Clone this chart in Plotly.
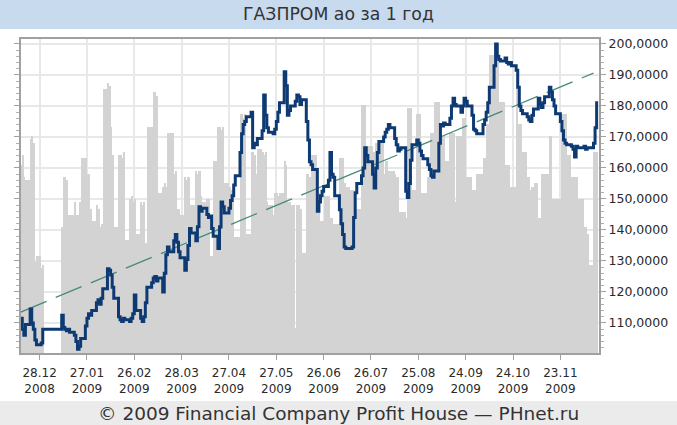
import pandas as pd
import plotly.graph_objects as go

# ---------------- data ----------------
title_text = "ГАЗПРОМ ао за 1 год"
footer_text = "© 2009 Financial Company Profit House — PHnet.ru"

# trading days: 16.12.2008 .. 16.12.2009 (New-Year holidays excluded, 11.01.2009 was a working Sunday)
_bd = pd.bdate_range("2008-12-16", "2009-12-16")
_bd = _bd[(_bd < "2008-12-31") | (_bd > "2009-01-10")]
dates = sorted(list(_bd) + [pd.Timestamp("2009-01-11")])

# closing price, rub. (one value per trading day)
price = [
    111.5, 108.0, 106.0, 109.5,
    114.5, 110.0, 108.0, 104.5, 103.0,
    103.5, 108.0,
    112.5,
    108.5, 108.0, 107.5, 108.0, 107.0,
    106.0, 104.0, 101.5, 102.5, 105.0,
    109.0, 111.5, 113.0, 112.5, 114.0,
    116.5, 117.5, 116.0, 118.0, 121.0,
    127.5, 127.0, 125.5, 121.5, 118.0,
    112.0, 111.0, 110.5, 111.5, 111.0,
    110.5, 111.5, 113.0, 119.0, 114.0,
    111.5, 110.5, 112.0, 116.5, 121.5,
    123.0, 124.5, 125.0, 123.5, 124.5,
    120.0, 126.0, 132.0, 134.5, 133.0,
    136.5, 138.5, 136.0, 133.0, 131.0,
    127.0, 130.5, 135.0, 140.5, 139.0,
    136.5, 141.0, 147.5, 146.0, 147.0,
    145.0, 144.0, 144.5, 140.5, 138.0,
    134.0, 141.0, 149.0, 147.5, 145.5,
    147.0, 149.5, 151.0, 154.5, 157.5,
    165.0, 171.0, 174.0, 175.0, 176.5,
    178.0, 166.5, 168.0, 167.5, 169.5,
    172.0, 183.5, 177.0, 173.0, 171.5,
    171.0, 172.5, 175.0, 178.0, 181.0,
    191.0, 186.5, 177.0, 178.5, 180.0,
    181.5, 183.5, 183.0, 180.5, 182.0,
    175.0, 169.0, 162.0, 161.0, 159.5,
    146.0, 149.0, 151.0, 152.5, 154.0,
    156.0, 165.0, 158.0, 157.0, 151.0,
    146.5, 142.0, 138.5, 134.5, 134.0,
    134.0, 134.5, 144.0, 152.0, 155.0,
    157.5, 160.0, 166.5, 164.0, 162.0,
    158.0, 153.5, 160.0, 165.0, 168.5,
    170.0, 171.5, 172.5, 174.0, 173.0,
    169.5, 167.5, 165.5, 166.0, 166.5,
    152.5, 150.5, 155.0, 162.5, 167.5,
    169.0, 168.0, 165.5, 164.0, 163.0,
    161.0, 159.5, 157.5, 157.0, 159.0,
    168.0, 174.0, 173.5, 174.5, 174.0,
    176.0, 180.0, 182.5, 180.5, 180.0,
    178.0, 180.0, 182.5, 181.5, 180.0,
    177.0, 172.5, 172.0, 171.0, 171.0,
    174.0, 175.5, 178.0, 181.0, 186.0,
    193.0, 200.0, 196.0, 195.0, 194.5,
    195.5, 194.0, 193.5, 194.0, 193.0,
    191.5, 186.0, 180.0, 178.5, 177.5,
    176.5, 175.5, 175.0, 177.0, 179.0,
    182.5, 180.5, 179.5, 181.0, 183.0,
    186.0, 184.5, 182.0, 180.0, 177.5,
    175.0, 172.0, 169.0, 168.0, 167.5,
    167.0, 166.0, 163.5, 167.0, 166.5,
    166.5, 167.0, 166.0, 166.5, 166.5,
    168.0, 173.0, 181.5,
]

# trading volume (relative units, background bars)
volume = [
    60, 63, 56, 55,
    68, 69, 67, 29, 31,
    27, 28,
    40,
    56, 56, 55, 44, 44,
    48, 44, 44, 48, 62,
    62, 57, 57, 46, 42,
    47, 46, 40, 41, 84,
    86, 85, 72, 63, 40,
    63, 63, 62, 64, 36,
    49, 50, 48, 49, 38,
    48, 47, 48, 35, 72,
    72, 83, 83, 82, 51,
    53, 54, 53, 70, 70,
    57, 58, 46, 46, 44,
    56, 55, 56, 47, 47,
    58, 57, 58, 50, 48,
    49, 49, 31, 31, 61,
    72, 72, 71, 72, 54,
    53, 52, 52, 37, 37,
    76, 76, 75, 76, 38,
    64, 64, 63, 57, 65,
    64, 63, 64, 48, 47,
    44, 51, 51, 50, 51,
    61, 60, 48, 48, 47,
    8, 47, 47, 46, 32,
    57, 57, 56, 63, 63,
    51, 51, 42, 42, 50,
    50, 43, 43, 41, 41,
    62, 62, 62, 54, 53,
    52, 52, 46, 46, 46,
    79, 79, 79, 66, 66,
    64, 64, 67, 67, 67,
    57, 61, 61, 58, 58,
    57, 56, 56, 45, 45,
    43, 78, 78, 78, 52,
    76, 76, 76, 51, 51,
    56, 56, 70, 70, 80,
    80, 69, 69, 69, 61,
    70, 70, 70, 48, 69,
    69, 75, 75, 56, 56,
    52, 52, 52, 57, 57,
    62, 62, 73, 73, 95,
    98, 98, 98, 80, 80,
    60, 60, 60, 53, 53,
    89, 73, 73, 73, 64,
    56, 56, 52, 53, 54,
    43, 43, 57, 57, 57,
    69, 69, 49, 49, 49,
    49, 76, 76, 76, 63,
    56, 56, 56, 56, 49,
    49, 40, 40, 38, 28,
    64, 64, 64,
]

# linear trend (start / end)
trend_dates = ["2008-12-16", "2009-12-14"]
trend_values = [113.5, 190.6]

# axis ticks
x_tick_dates = ["2008-12-28", "2009-01-27", "2009-02-26", "2009-03-28", "2009-04-27",
                "2009-05-27", "2009-06-26", "2009-07-26", "2009-08-25", "2009-09-24",
                "2009-10-24", "2009-11-23"]
x_tick_text = ["28.12<br>2008", "27.01<br>2009", "26.02<br>2009", "28.03<br>2009",
               "27.04<br>2009", "27.05<br>2009", "26.06<br>2009", "26.07<br>2009",
               "25.08<br>2009", "24.09<br>2009", "24.10<br>2009", "23.11<br>2009"]
y_tick_vals = [110, 120, 130, 140, 150, 160, 170, 180, 190, 200]
y_tick_text = ["110,0000", "120,0000", "130,0000", "140,0000", "150,0000",
               "160,0000", "170,0000", "180,0000", "190,0000", "200,0000"]

# ---------------- figure ----------------
DAY = 86400000
widths = []
for i, d in enumerate(dates):
    if i + 1 < len(dates):
        gap = (dates[i + 1] - d).days
        widths.append((gap if gap <= 3 else 1) * DAY)
    else:
        widths.append(DAY)

FONT = "DejaVu Sans"
fig = go.Figure()
fig.add_trace(go.Bar(x=dates, y=volume, width=widths, offset=0,
                     marker=dict(color="#d3d3d3", line=dict(width=0)),
                     yaxis="y", hoverinfo="skip"))
fig.add_trace(go.Scatter(x=trend_dates, y=trend_values, mode="lines",
                         line=dict(color="#468a78", width=1.3, dash="28px,10px"),
                         yaxis="y2", hoverinfo="skip"))
fig.add_trace(go.Scatter(x=dates, y=price, mode="lines",
                         line=dict(color="#0e3a74", width=3, shape="hv"),
                         yaxis="y2"))

W, H = 677, 425
L, R, T, B = 21, 78, 39, 72
pw, ph = W - L - R, H - T - B
def px2paper_x(px):
    return (px - L) / pw
def px2paper_y(py):
    return 1 - (py - T) / ph

fig.update_layout(
    width=W, height=H, autosize=False,
    margin=dict(l=L, r=R, t=T, b=B, pad=0),
    paper_bgcolor="white", plot_bgcolor="white",
    showlegend=False, bargap=0,
    font=dict(family=FONT, size=12, color="#333333"),
    xaxis=dict(type="date", range=["2008-12-16 05:00", "2009-12-17 12:00"],
               tickvals=x_tick_dates, ticktext=x_tick_text, automargin=False,
               tickfont=dict(family=FONT, size=12, color="#2a2a2a"),
               ticklabelstandoff=3,
               showgrid=True, gridcolor="#e8e8e8", gridwidth=1.5,
               ticks="outside", ticklen=5, tickcolor="#a0a0a0",
               showline=True, linecolor="#a0a0a0", linewidth=2, mirror=True,
               zeroline=False),
    yaxis=dict(range=[0, 100], visible=False, fixedrange=True),
    yaxis2=dict(overlaying="y", side="right", range=[100.3, 201.6], automargin=False,
                tickvals=y_tick_vals, ticktext=y_tick_text,
                tickfont=dict(family=FONT, size=12.5, color="#2a2a2a"),
                showgrid=True, gridcolor="#e8e8e8", gridwidth=1.5,
                ticks="outside", ticklen=5, tickcolor="#a0a0a0",
                minor=dict(dtick=2, ticks="outside", ticklen=3, tickcolor="#b0b0b0"),
                showline=True, linecolor="#a0a0a0", linewidth=2, mirror="allticks",
                zeroline=False),
    shapes=[
        dict(type="rect", xref="paper", yref="paper", layer="below",
             x0=px2paper_x(-5), x1=px2paper_x(W + 5), y0=px2paper_y(29), y1=px2paper_y(-5),
             fillcolor="#c8daee", line=dict(width=0)),
        dict(type="rect", xref="paper", yref="paper", layer="below",
             x0=px2paper_x(-5), x1=px2paper_x(W + 5), y0=px2paper_y(H + 5), y1=px2paper_y(401),
             fillcolor="#ebebeb", line=dict(width=0)),
    ],
    annotations=[
        dict(text=title_text, xref="paper", yref="paper", x=px2paper_x(338.5), y=px2paper_y(14),
             xanchor="center", yanchor="middle", showarrow=False,
             font=dict(family=FONT, size=17.3, color="#333333")),
        dict(text=footer_text, xref="paper", yref="paper", x=px2paper_x(338.5), y=px2paper_y(413),
             xanchor="center", yanchor="middle", showarrow=False,
             font=dict(family=FONT, size=18.5, color="#333333")),
    ],
)

fig.write_html("out.html", config={"displayModeBar": False},
               post_script="document.body.style.margin='0';")
